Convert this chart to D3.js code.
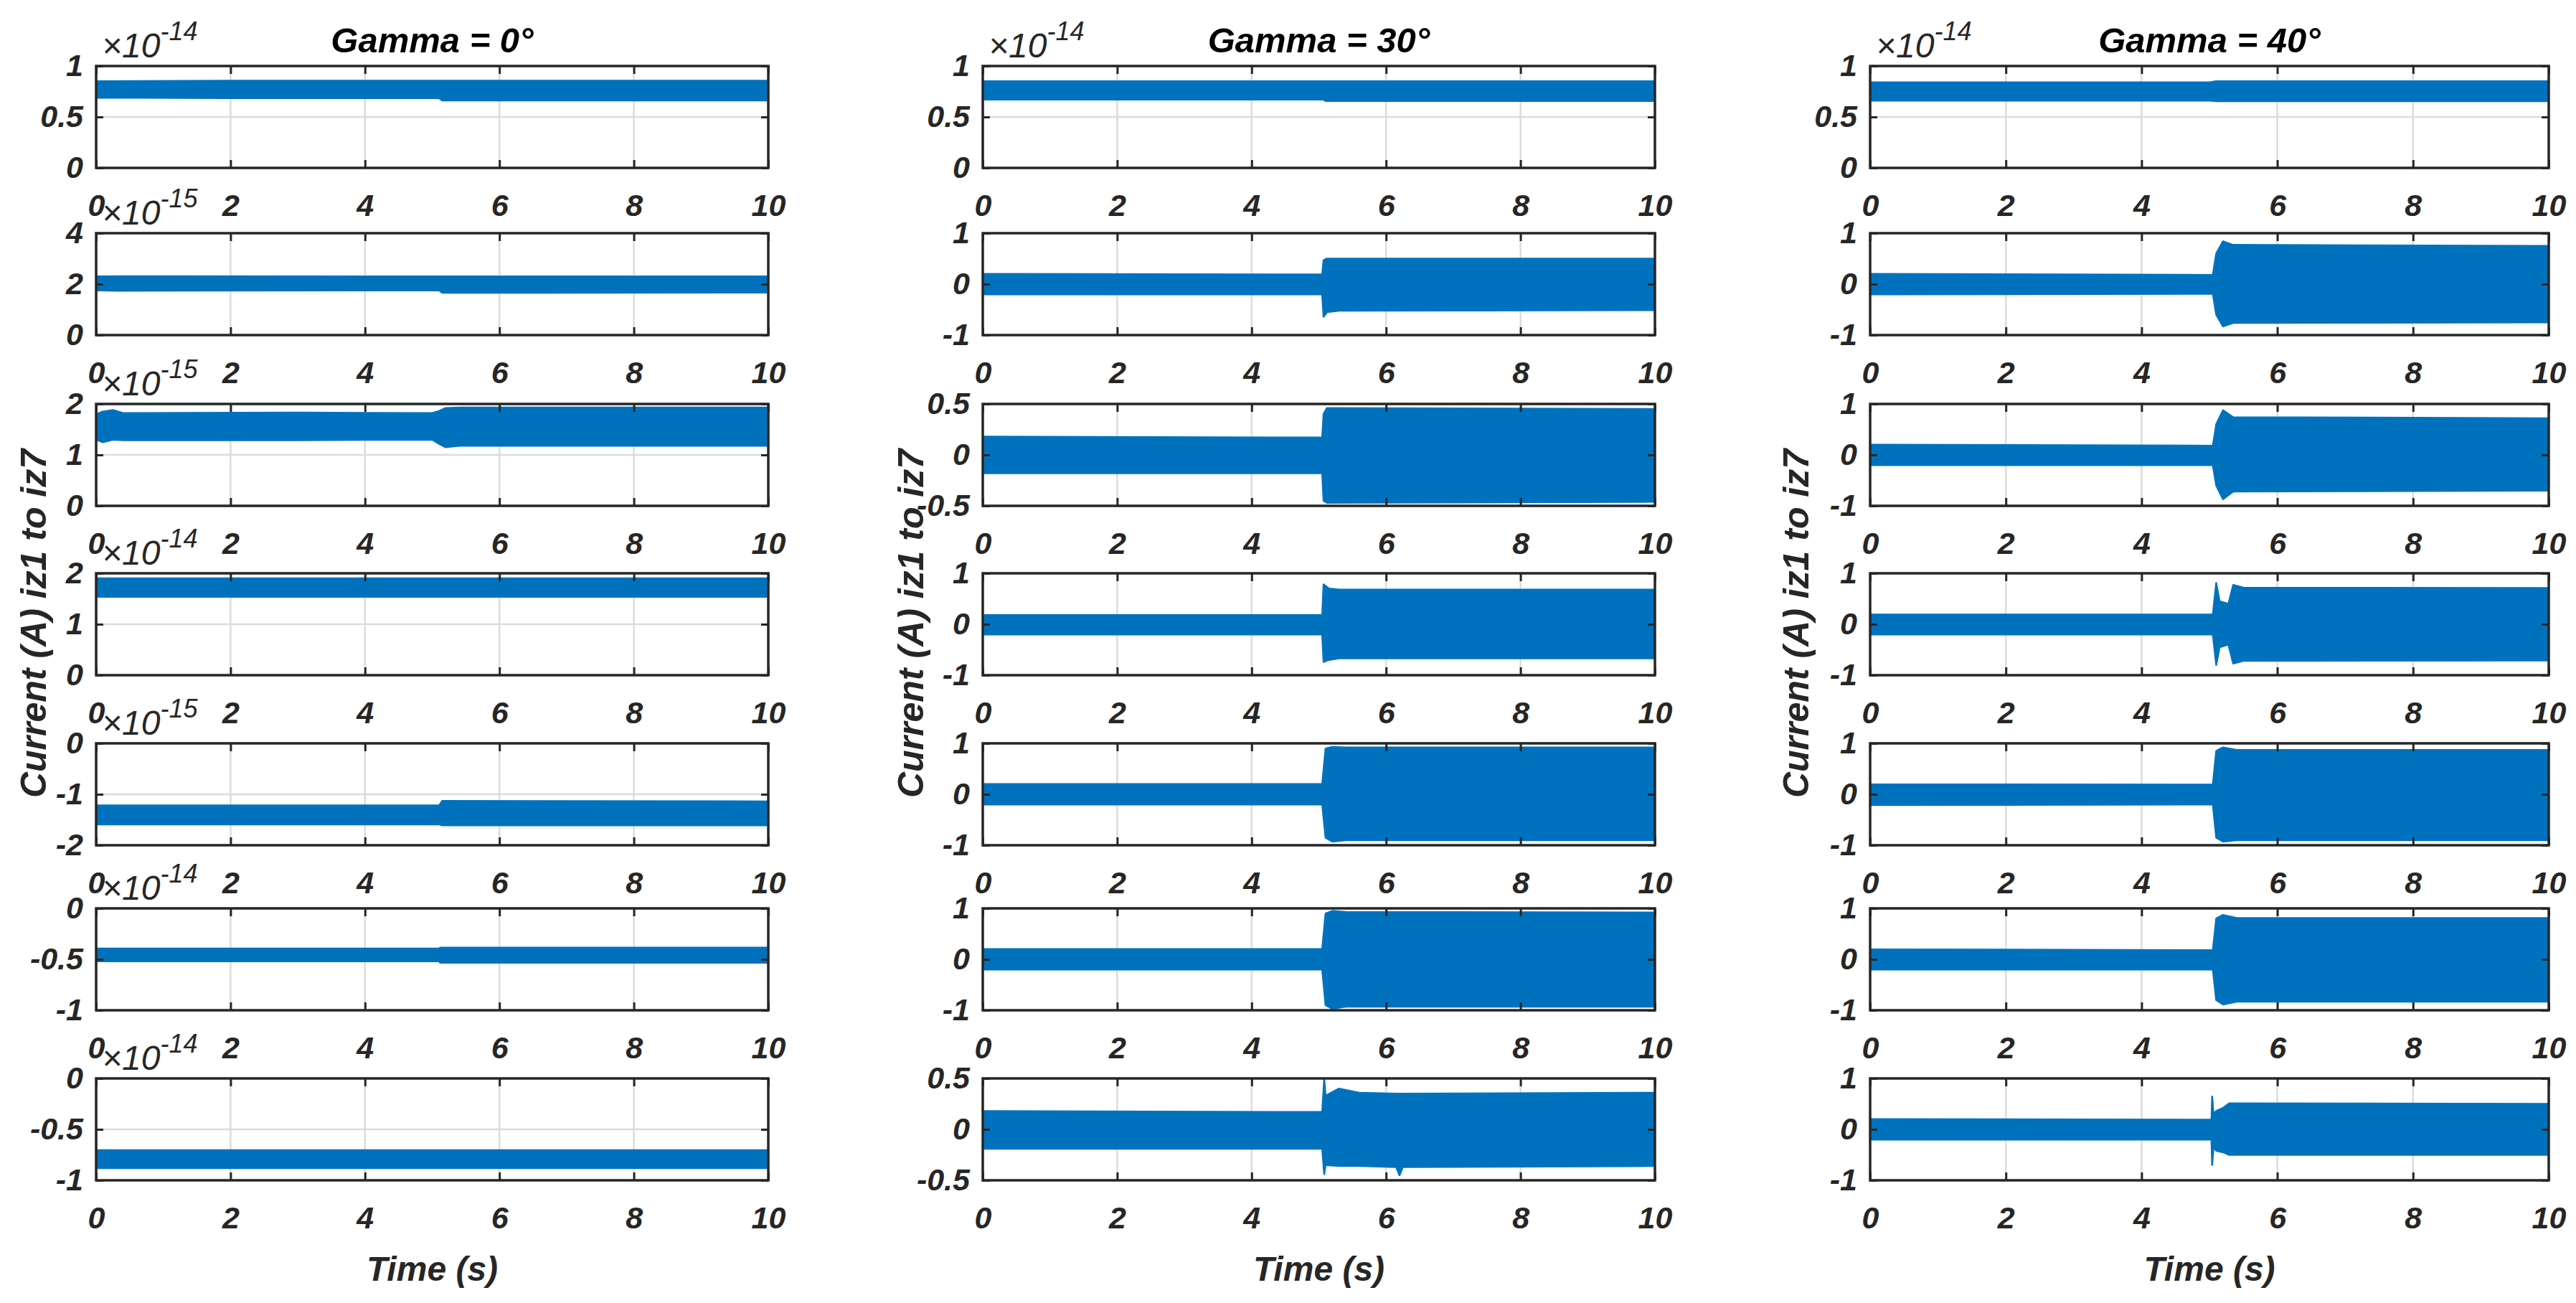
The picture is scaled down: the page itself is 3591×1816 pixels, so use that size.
<!DOCTYPE html>
<html><head><meta charset="utf-8">
<script src="https://cdn.jsdelivr.net/npm/d3@7"></script>
<style>
body{margin:0;background:#fff}
text{font-family:"Liberation Sans",Arial,Helvetica,sans-serif;font-style:italic;font-weight:bold;fill:#262626}
</style>
</head><body>
<svg id="c" width="3591" height="1816"></svg>
<script>
// ---------- DATA ----------
const titles = ["Gamma = 0°", "Gamma = 30°", "Gamma = 40°"];
const xTicks = [0, 2, 4, 6, 8, 10];
const yLabel = "Current (A) iz1 to iz7";
const xLabel = "Time (s)";

// Gamma = 0° : y ticks and exponent of each row
const yTicksG0 = [[0, 0.5, 1], [0, 2, 4], [0, 1, 2], [0, 1, 2], [-2, -1, 0], [-1, -0.5, 0], [-1, -0.5, 0]];
const expG0 = ["-14", "-15", "-15", "-14", "-15", "-14", "-14"];
// Envelopes [time, lower, upper] (in displayed units)
const g0_iz1 = [[0,0,0],[0,0.69,0.85],[2,0.685,0.855],[5.1,0.685,0.855],[5.15,0.662,0.855],[10,0.662,0.855]];
const g0_iz2 = [[0,0,0],[0,1.76,2.30],[0.3,1.74,2.31],[5.1,1.76,2.30],[5.15,1.66,2.30],[10,1.67,2.30]];
const g0_iz3 = [[0,0,0],[0,1.30,1.80],[0.1,1.25,1.85],[0.25,1.30,1.88],[0.4,1.29,1.82],[3,1.29,1.83],[5.0,1.30,1.82],[5.1,1.22,1.86],[5.2,1.15,1.92],[5.4,1.18,1.93],[10,1.18,1.93]];
const g0_iz4 = [[0,0,0],[0,1.54,1.90],[10,1.54,1.90]];
const g0_iz5 = [[0,0,0],[0,-1.59,-1.22],[5.1,-1.59,-1.22],[5.15,-1.61,-1.13],[10,-1.61,-1.14]];
const g0_iz6 = [[0,0,0],[0,-0.52,-0.395],[5.1,-0.52,-0.395],[5.12,-0.534,-0.386],[10,-0.534,-0.386]];
const g0_iz7 = [[0,0,0],[0,-0.88,-0.705],[10,-0.88,-0.705]];

// Gamma = 30°
const yTicksG30 = [[0, 0.5, 1], [-1, 0, 1], [-0.5, 0, 0.5], [-1, 0, 1], [-1, 0, 1], [-1, 0, 1], [-0.5, 0, 0.5]];
const expG30 = ["-14", "", "", "", "", "", ""];
const g30_iz1 = [[0,0,0],[0,0.67,0.85],[5.07,0.67,0.85],[5.1,0.657,0.85],[10,0.657,0.85]];
const g30_iz2 = [[0,-0.2,0.2],[5.05,-0.2,0.19],[5.07,-0.64,0.47],[5.12,-0.55,0.5],[5.3,-0.52,0.5],[10,-0.51,0.5]];
const g30_iz3 = [[0,-0.18,0.18],[5.05,-0.18,0.17],[5.07,-0.45,0.40],[5.12,-0.47,0.46],[10,-0.46,0.45]];
const g30_iz4 = [[0,-0.2,0.18],[5.05,-0.2,0.18],[5.07,-0.74,0.78],[5.15,-0.7,0.7],[5.3,-0.67,0.68],[10,-0.67,0.68]];
const g30_iz5 = [[0,-0.2,0.2],[5.05,-0.2,0.2],[5.1,-0.85,0.9],[5.2,-0.93,0.93],[5.4,-0.9,0.92],[10,-0.9,0.92]];
const g30_iz6 = [[0,-0.2,0.2],[5.05,-0.2,0.2],[5.1,-0.9,0.9],[5.2,-0.97,0.95],[5.4,-0.93,0.93],[10,-0.93,0.92]];
const g30_iz7 = [[0,-0.19,0.18],[5.05,-0.19,0.17],[5.08,-0.44,0.495],[5.1,-0.35,0.33],[5.3,-0.36,0.40],[5.6,-0.36,0.36],[6.15,-0.37,0.35],[6.2,-0.45,0.35],[6.25,-0.37,0.35],[10,-0.36,0.36]];

// Gamma = 40°
const yTicksG40 = [[0, 0.5, 1], [-1, 0, 1], [-1, 0, 1], [-1, 0, 1], [-1, 0, 1], [-1, 0, 1], [-1, 0, 1]];
const expG40 = ["-14", "", "", "", "", "", ""];
const g40_iz1 = [[0,0,0],[0,0.66,0.84],[5.0,0.66,0.84],[5.1,0.655,0.85],[10,0.655,0.85]];
const g40_iz2 = [[0,-0.2,0.2],[5.05,-0.19,0.18],[5.1,-0.6,0.6],[5.2,-0.83,0.84],[5.35,-0.76,0.77],[10,-0.75,0.75]];
const g40_iz3 = [[0,-0.2,0.2],[5.05,-0.2,0.18],[5.1,-0.6,0.6],[5.2,-0.87,0.875],[5.35,-0.72,0.74],[10,-0.70,0.72]];
const g40_iz4 = [[0,-0.2,0.19],[5.05,-0.2,0.19],[5.1,-0.8,0.81],[5.15,-0.45,0.45],[5.28,-0.4,0.4],[5.35,-0.77,0.77],[5.5,-0.72,0.72],[10,-0.71,0.71]];
const g40_iz5 = [[0,-0.21,0.195],[5.05,-0.2,0.19],[5.1,-0.85,0.85],[5.2,-0.93,0.92],[5.4,-0.9,0.87],[10,-0.9,0.87]];
const g40_iz6 = [[0,-0.2,0.195],[5.05,-0.2,0.18],[5.1,-0.8,0.8],[5.2,-0.886,0.87],[5.4,-0.83,0.81],[10,-0.83,0.81]];
const g40_iz7 = [[0,-0.2,0.2],[5.03,-0.2,0.19],[5.04,-0.70,0.645],[5.06,-0.35,0.3],[5.1,-0.42,0.36],[5.2,-0.45,0.42],[5.29,-0.5,0.51],[10,-0.5,0.5]];

// ---------- LAYOUT ----------
const colLeft = [134, 1370, 2607];
const colW = [937, 937, 946];
const rowTop = [92, 325, 563, 799, 1036, 1266, 1503];
const rowH = 142;
const yLabelX = [46, 1269, 2503];
const BLUE = "#0072BD", INK = "#262626", GRID = "#dcdcdc";

const columns = [
  {title: titles[0], env: [g0_iz1,g0_iz2,g0_iz3,g0_iz4,g0_iz5,g0_iz6,g0_iz7], ticks: yTicksG0, exp: expG0},
  {title: titles[1], env: [g30_iz1,g30_iz2,g30_iz3,g30_iz4,g30_iz5,g30_iz6,g30_iz7], ticks: yTicksG30, exp: expG30},
  {title: titles[2], env: [g40_iz1,g40_iz2,g40_iz3,g40_iz4,g40_iz5,g40_iz6,g40_iz7], ticks: yTicksG40, exp: expG40}
];

const svg = d3.select("#c");
const defs = svg.append("defs");

function styleAxis(sel, showText) {
  sel.select(".domain").remove();
  sel.selectAll(".tick line").attr("stroke", INK).attr("stroke-width", 3);
  sel.attr("font-family", null).attr("font-size", null);
  sel.selectAll(".tick text").attr("fill", INK).style("font-size", "43px");
  if (!showText) sel.selectAll(".tick text").remove();
}

columns.forEach((c, ci) => {
  const x = d3.scaleLinear().domain([0, 10]).range([colLeft[ci], colLeft[ci] + colW[ci]]);
  const cx = colLeft[ci] + colW[ci] / 2;

  c.env.forEach((env, ri) => {
    const top = rowTop[ri], bot = top + rowH;
    const yt = c.ticks[ri];
    const y = d3.scaleLinear().domain([yt[0], yt[yt.length - 1]]).range([bot, top]);
    const g = svg.append("g");

    // grid
    g.append("g").selectAll("line").data(xTicks).join("line")
      .attr("x1", d => x(d)).attr("x2", d => x(d)).attr("y1", top).attr("y2", bot)
      .attr("stroke", GRID).attr("stroke-width", 2.5);
    g.append("g").selectAll("line").data(yt).join("line")
      .attr("x1", x.range()[0]).attr("x2", x.range()[1]).attr("y1", d => y(d)).attr("y2", d => y(d))
      .attr("stroke", GRID).attr("stroke-width", 2.5);

    // data envelope
    const id = "clip" + ci + "_" + ri;
    defs.append("clipPath").attr("id", id).append("rect")
      .attr("x", x.range()[0] - 1).attr("y", top).attr("width", colW[ci] + 2).attr("height", rowH);
    const area = d3.area().x(d => x(d[0])).y0(d => y(d[1])).y1(d => y(d[2]));
    g.append("path").datum(env).attr("d", area)
      .attr("fill", BLUE).attr("stroke", BLUE).attr("stroke-width", 2.5).attr("stroke-linejoin", "round")
      .attr("clip-path", "url(#" + id + ")");

    // axes (ticks inside)
    g.append("g").attr("transform", `translate(0,${bot})`)
      .call(d3.axisBottom(x).tickValues(xTicks).tickSize(-11).tickPadding(36).tickFormat(d3.format("d")))
      .call(s => styleAxis(s, true));
    g.append("g").attr("transform", `translate(0,${top})`)
      .call(d3.axisTop(x).tickValues(xTicks).tickSize(-11))
      .call(s => styleAxis(s, false));
    g.append("g").attr("transform", `translate(${x.range()[0]},0)`)
      .call(d3.axisLeft(y).tickValues(yt).tickSize(-10).tickPadding(18).tickFormat(d => String(d)))
      .call(s => styleAxis(s, true));
    g.append("g").attr("transform", `translate(${x.range()[1]},0)`)
      .call(d3.axisRight(y).tickValues(yt).tickSize(-10))
      .call(s => styleAxis(s, false));

    // box
    g.append("rect").attr("x", x.range()[0]).attr("y", top).attr("width", colW[ci]).attr("height", rowH)
      .attr("fill", "none").attr("stroke", INK).attr("stroke-width", 3.5);

    // exponent
    if (c.exp[ri]) {
      const t = g.append("text").attr("x", x.range()[0] + 8).attr("y", top - 12)
        .style("font-size", "48px").style("font-weight", "normal");
      t.append("tspan").text("×");
      t.append("tspan").text("10");
      t.append("tspan").attr("dy", -24).style("font-size", "36px").text(c.exp[ri]);
    }
  });

  // title
  svg.append("text").attr("x", cx).attr("y", rowTop[0] - 19).attr("text-anchor", "middle")
    .style("font-size", "49px").style("fill", "#000").text(c.title);
  // x label
  svg.append("text").attr("x", cx).attr("y", 1785).attr("text-anchor", "middle")
    .style("font-size", "48px").text(xLabel);
  // y label
  svg.append("text").attr("transform", `translate(${yLabelX[ci]},869) rotate(-90)`)
    .attr("text-anchor", "middle").attr("dy", "0.36em")
    .style("font-size", "50px").text(yLabel);
});
</script>
</body></html>
